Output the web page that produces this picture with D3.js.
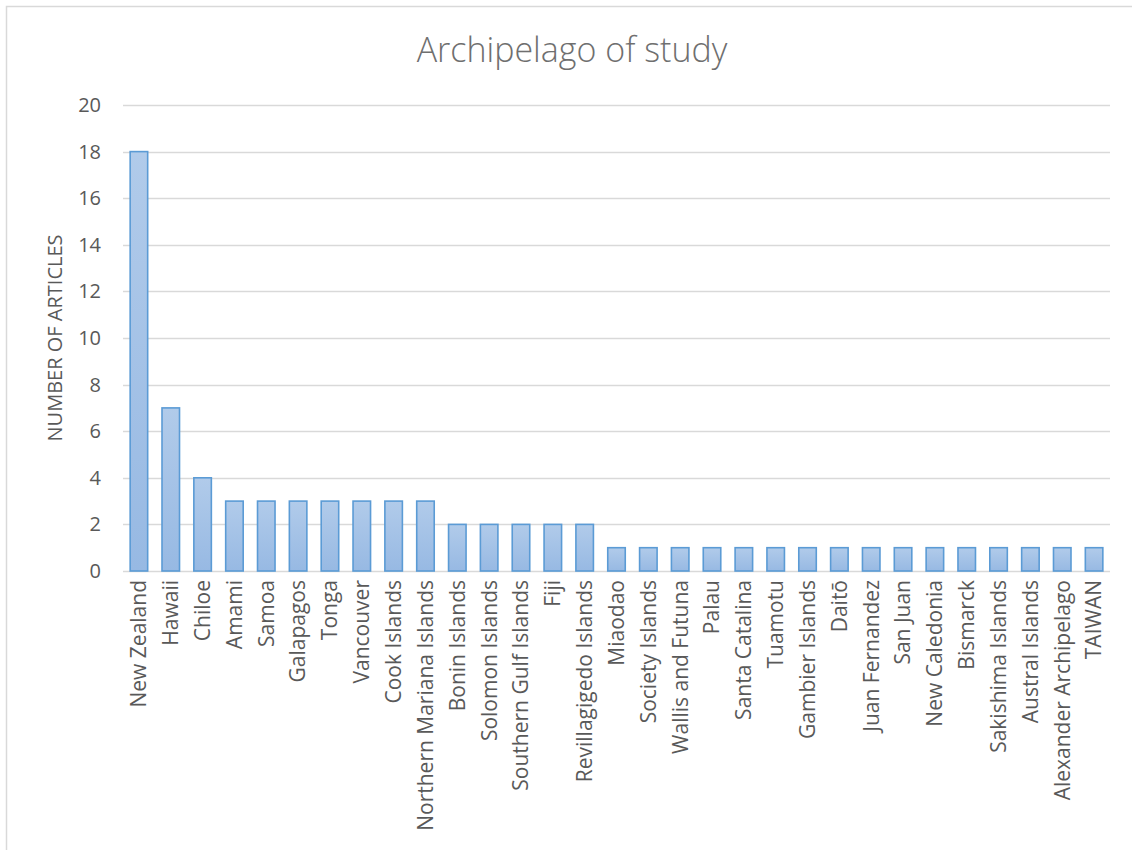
<!DOCTYPE html>
<html>
<head>
<meta charset="utf-8">
<script src="https://cdn.jsdelivr.net/npm/d3@7"></script>
<style>
  body { margin: 0; background: white; }
  text { font-family: "Open Sans", sans-serif; }
</style>
</head>
<body>
<div id="chart"></div>
<script>

// data
const archipelagos = ["New Zealand", "Hawaii", "Chiloe", "Amami", "Samoa", "Galapagos", "Tonga", "Vancouver",
    "Cook Islands", "Northern Mariana Islands", "Bonin Islands", "Solomon Islands", "Southern Gulf Islands",
    "Fiji", "Revillagigedo Islands", "Miaodao", "Society Islands", "Wallis and Futuna", "Palau", "Santa Catalina",
    "Tuamotu", "Gambier Islands", "Daitō", "Juan Fernandez", "San Juan", "New Caledonia", "Bismarck",
    "Sakishima Islands", "Austral Islands", "Alexander Archipelago", "TAIWAN"];
const articles = [18, 7, 4, 3, 3, 3, 3, 3, 3, 3, 2, 2, 2, 2, 2, 1, 1, 1, 1, 1, 1, 1, 1, 1, 1, 1, 1, 1, 1, 1, 1];
const yTicks = [0, 2, 4, 6, 8, 10, 12, 14, 16, 18, 20];

const data = archipelagos.map((name, i) => ({ name, value: articles[i] }));

const dimensions = {
    width: 1132,
    height: 850,
    margin: { top: 105, right: 22, bottom: 279, left: 123 },
};
dimensions.boundedWidth = dimensions.width - dimensions.margin.left - dimensions.margin.right;
dimensions.boundedHeight = dimensions.height - dimensions.margin.top - dimensions.margin.bottom;

const svg = d3.select("#chart")
    .append("svg")
    .attr("width", dimensions.width)
    .attr("height", dimensions.height);

// chart frame
svg.append("rect")
    .attr("x", 6.5).attr("y", 6.5)
    .attr("width", 1140).attr("height", 860)
    .attr("fill", "white")
    .attr("stroke", "#d9d9d9")
    .attr("stroke-width", 1.5);

const defs = svg.append("defs");
const grad = defs.append("linearGradient")
    .attr("id", "barGrad")
    .attr("x1", 0).attr("y1", 0).attr("x2", 0).attr("y2", 1);
grad.append("stop").attr("offset", "0%").attr("stop-color", "#b1cbea");
grad.append("stop").attr("offset", "100%").attr("stop-color", "#97b9e3");

const x = d3.scaleBand()
    .domain(archipelagos)
    .range([0, dimensions.boundedWidth])
    .paddingInner(0.45)
    .paddingOuter(0.225);

const y = d3.scaleLinear()
    .domain([0, 20])
    .range([dimensions.boundedHeight, 0]);

const bounds = svg.append("g")
    .attr("transform", `translate(${dimensions.margin.left}, ${dimensions.margin.top})`);

// gridlines
bounds.selectAll("line.grid")
    .data(yTicks)
    .join("line")
    .attr("class", "grid")
    .attr("x1", 0)
    .attr("x2", dimensions.boundedWidth)
    .attr("y1", d => Math.round(y(d)) + 0.5)
    .attr("y2", d => Math.round(y(d)) + 0.5)
    .attr("stroke", "#d9d9d9")
    .attr("stroke-width", 1.3);

// y tick labels
bounds.selectAll("text.ytick")
    .data(yTicks)
    .join("text")
    .attr("class", "ytick")
    .attr("x", -22)
    .attr("y", d => y(d))
    .attr("dy", "0.35em")
    .attr("text-anchor", "end")
    .style("font-size", "20px")
    .style("fill", "#595959")
    .text(d => d);

// bars
bounds.selectAll("rect.bar")
    .data(data)
    .join("rect")
    .attr("class", "bar")
    .attr("x", d => x(d.name))
    .attr("y", d => y(d.value))
    .attr("width", x.bandwidth())
    .attr("height", d => y(0) - y(d.value))
    .attr("fill", "url(#barGrad)")
    .attr("stroke", "#5b9bd5")
    .attr("stroke-width", 1.6);

// x labels
bounds.selectAll("text.xlabel")
    .data(data)
    .join("text")
    .attr("class", "xlabel")
    .attr("transform", d => `translate(${x(d.name) + x.bandwidth() / 2}, ${dimensions.boundedHeight + 9}) rotate(-90)`)
    .attr("dy", "0.35em")
    .attr("text-anchor", "end")
    .style("font-size", "21px")
    .style("fill", "#595959")
    .text(d => d.name);

// title
svg.append("text")
    .attr("x", 572)
    .attr("y", 62)
    .attr("text-anchor", "middle")
    .style("font-size", "34px")
    .style("font-weight", 300)
    .style("fill", "#6f6f6f")
    .text("Archipelago of study");

// y axis title
svg.append("text")
    .attr("transform", `translate(55, ${dimensions.margin.top + y(10)}) rotate(-90)`)
    .attr("text-anchor", "middle")
    .attr("dy", "0.35em")
    .style("font-size", "20px")
    .style("fill", "#595959")
    .text("NUMBER OF ARTICLES");

</script>
</body>
</html>
